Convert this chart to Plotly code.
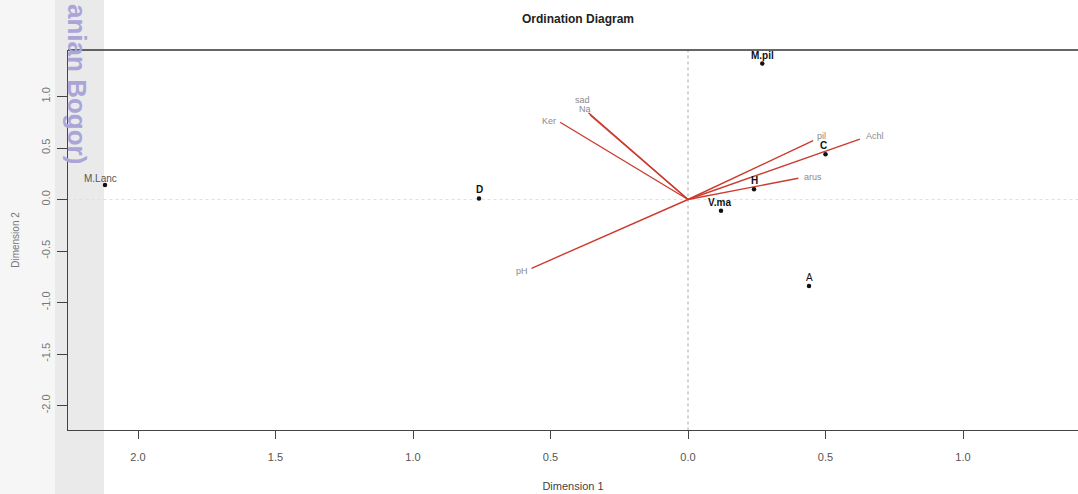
import plotly.graph_objects as go

# ---- data ----
sites = ["M.pil", "M.Lanc", "D", "C", "H", "V.ma", "A"]
site_x = [0.27, -2.12, -0.76, 0.50, 0.24, 0.12, 0.44]
site_y = [1.32, 0.14, 0.01, 0.44, 0.10, -0.11, -0.84]

vectors = ["Ker", "sad", "Na", "pil", "Achl", "arus", "pH"]
vec_x = [-0.465, -0.362, -0.356, 0.455, 0.625, 0.401, -0.569]
vec_y = [0.75, 0.843, 0.82, 0.571, 0.587, 0.206, -0.668]

x_ticks = [-2.0, -1.5, -1.0, -0.5, 0.0, 0.5, 1.0]
x_ticktext = ["2.0", "1.5", "1.0", "0.5", "0.0", "0.5", "1.0"]
y_ticks = [1.0, 0.5, 0.0, -0.5, -1.0, -1.5, -2.0]
y_ticktext = ["1.0", "0.5", "0.0", "-0.5", "-1.0", "-1.5", "-2.0"]

W, H = 1078, 494
ML, MT, MB, MR = 68, 50, 64, 0

fig = go.Figure()

# reference lines
fig.add_trace(go.Scatter(x=[0, 0], y=[-2.3, 1.52], mode="lines",
                         line=dict(color="#a8a8a8", width=1, dash="dot"),
                         hoverinfo="skip", showlegend=False, cliponaxis=False))
fig.add_trace(go.Scatter(x=[-2.3, 1.5], y=[0, 0], mode="lines",
                         line=dict(color="#e0e0e0", width=1, dash="dot"),
                         hoverinfo="skip", showlegend=False))

# vectors
for name, vx, vy in zip(vectors, vec_x, vec_y):
    fig.add_trace(go.Scatter(x=[0, vx], y=[0, vy], mode="lines",
                             line=dict(color="#cc3b2f", width=1.4),
                             hoverinfo="skip", showlegend=False))

# sites
fig.add_trace(go.Scatter(x=site_x, y=site_y, mode="markers",
                         marker=dict(color="#111111", size=4.5, symbol="circle"),
                         hoverinfo="skip", showlegend=False))

# vector labels
vec_pos = {
    "Ker": ("right", "middle", -2, 1),
    "sad": ("center", "bottom", -6, 6),
    "Na": ("center", "bottom", -5, -1),
    "pil": ("left", "middle", 2, 5),
    "Achl": ("left", "middle", 4, 3),
    "arus": ("left", "middle", 4, 1),
    "pH": ("right", "middle", -2, -3),
}
for name, vx, vy in zip(vectors, vec_x, vec_y):
    xa, ya, dx, dy = vec_pos[name]
    fig.add_annotation(x=vx, y=vy, text=name, showarrow=False,
                       xanchor=xa, yanchor=ya, xshift=dx, yshift=dy,
                       font=dict(family="Liberation Sans, Arial", size=9, color="#8a8a8a"))

# site labels
site_pos = {
    "M.pil": ("center", "bottom", 0, 1, True, "#111111"),
    "M.Lanc": ("center", "bottom", -5, -1, False, "#555555"),
    "D": ("center", "bottom", 0, 1, True, "#111111"),
    "C": ("center", "bottom", -2, 1, True, "#111111"),
    "H": ("center", "bottom", 0, 1, True, "#111111"),
    "V.ma": ("center", "bottom", -2, 1, True, "#111111"),
    "A": ("center", "bottom", 0, 1, False, "#111111"),
}
for name, sx, sy in zip(sites, site_x, site_y):
    xa, ya, dx, dy, bold, col = site_pos[name]
    txt = f"<b>{name}</b>" if bold else name
    fig.add_annotation(x=sx, y=sy, text=txt, showarrow=False,
                       xanchor=xa, yanchor=ya, xshift=dx, yshift=dy,
                       font=dict(family="Liberation Sans, Arial", size=10, color=col))

pw = W - ML - MR
ph = H - MT - MB
def px_x(p):
    return (p - ML) / pw
def px_y(p):
    return (H - MB - p) / ph

# scanned page background bands
fig.add_shape(type="rect", xref="paper", yref="paper",
              x0=px_x(0), x1=px_x(55), y0=px_y(H), y1=px_y(0),
              fillcolor="#f6f6f6", line_width=0, layer="below")
fig.add_shape(type="rect", xref="paper", yref="paper",
              x0=px_x(55), x1=px_x(104), y0=px_y(H), y1=px_y(0),
              fillcolor="#eaeaea", line_width=0, layer="below")
# top border of the box
fig.add_shape(type="line", xref="paper", yref="paper",
              x0=0, x1=1, y0=1, y1=1, line=dict(color="#333333", width=1.5))

# watermark
fig.add_annotation(xref="paper", yref="paper", x=px_x(77), y=px_y(84),
                   text="<b>anian Bogor)</b>", showarrow=False, textangle=90,
                   xanchor="center", yanchor="middle",
                   font=dict(family="Liberation Sans, Arial", size=26, color="#a9a5d8"))

fig.update_layout(
    width=W, height=H,
    margin=dict(l=ML, r=MR, t=MT, b=MB),
    paper_bgcolor="white", plot_bgcolor="rgba(0,0,0,0)",
    title=dict(text="<b>Ordination Diagram</b>", x=578 / W,
               xanchor="center", y=1 - 19 / H, yanchor="middle",
               font=dict(family="Liberation Sans, Arial", size=12, color="#222222")),
    font=dict(family="Liberation Sans, Arial"),
)

x0 = -620 / 275
x1 = (W - 688) / 275
fig.update_xaxes(range=[x0, x1], showgrid=False, zeroline=False,
                 showline=True, linecolor="#444444", linewidth=1.2,
                 ticks="outside", ticklen=8, tickcolor="#444444",
                 ticklabelstandoff=9,
                 tickvals=x_ticks, ticktext=x_ticktext,
                 tickfont=dict(size=11, color="#555555"),
                 title=dict(text="Dimension 1", font=dict(size=11, color="#444444"), standoff=20))
y_top = (199.5 - MT) / 103
y_bot = (199.5 - (H - MB)) / 103
fig.update_yaxes(range=[y_bot, y_top], showgrid=False, zeroline=False,
                 showline=True, linecolor="#444444", linewidth=1.2,
                 ticks="outside", ticklen=10, tickcolor="#444444",
                 ticklabelstandoff=3,
                 tickvals=y_ticks, ticktext=y_ticktext, tickangle=-90,
                 tickfont=dict(size=11, color="#777777"),
                 title=dict(text="Dimension 2", font=dict(size=10, color="#777777"), standoff=18))

fig.write_html("out.html", config={"displayModeBar": False},
               post_script="document.body.style.margin='0';document.body.style.padding='0';")
